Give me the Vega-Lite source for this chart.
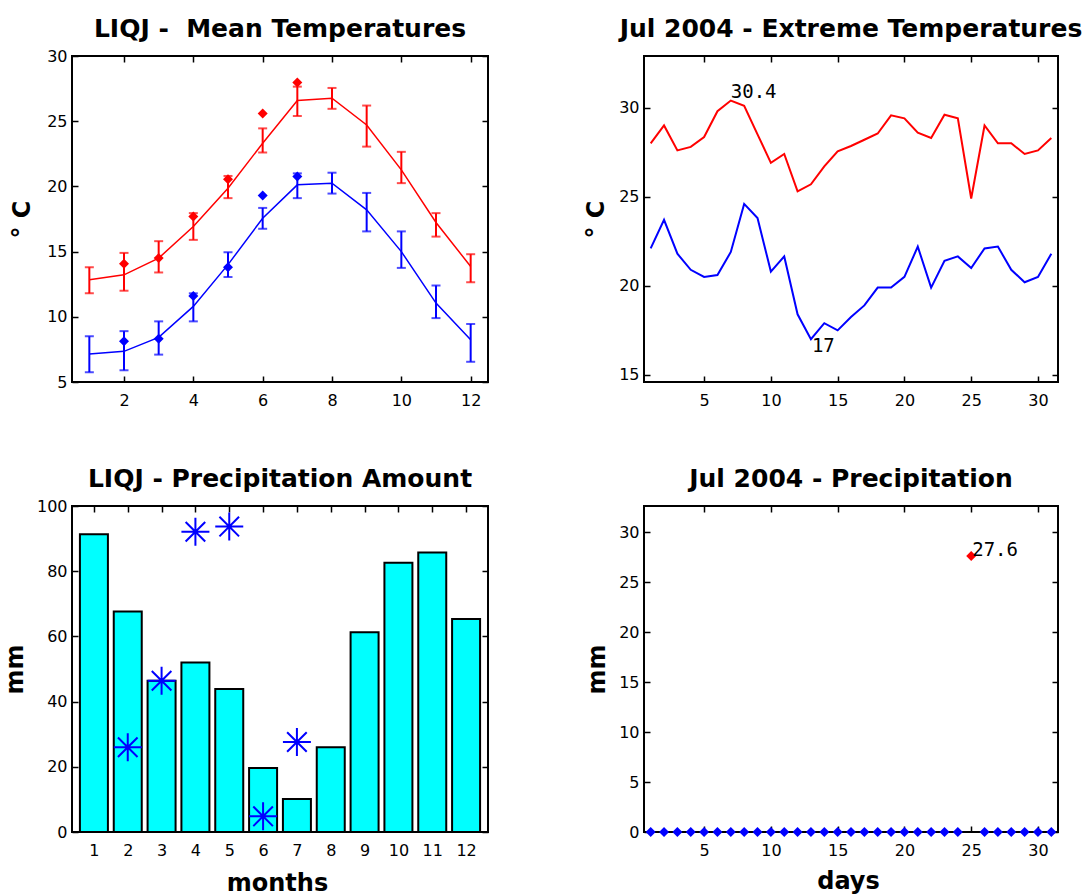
{
  "$schema": "https://vega.github.io/schema/vega-lite/v6.json",
  "padding": {"left": 2, "top": 16, "right": 0, "bottom": 0},
  "background": "white",
  "datasets": {
    "monthly": [
      {"month": 1, "series": "max", "mean": 12.84, "lo": 11.8, "hi": 13.8},
      {"month": 2, "series": "max", "mean": 13.22, "lo": 12.0, "hi": 14.9},
      {"month": 3, "series": "max", "mean": 14.5, "lo": 13.4, "hi": 15.8},
      {"month": 4, "series": "max", "mean": 16.93, "lo": 15.9, "hi": 17.95},
      {"month": 5, "series": "max", "mean": 19.86, "lo": 19.1, "hi": 20.8},
      {"month": 6, "series": "max", "mean": 23.31, "lo": 22.6, "hi": 24.45},
      {"month": 7, "series": "max", "mean": 26.58, "lo": 25.4, "hi": 27.65},
      {"month": 8, "series": "max", "mean": 26.76, "lo": 25.95, "hi": 27.55},
      {"month": 9, "series": "max", "mean": 24.71, "lo": 23.05, "hi": 26.2},
      {"month": 10, "series": "max", "mean": 21.27, "lo": 20.25, "hi": 22.65},
      {"month": 11, "series": "max", "mean": 17.23, "lo": 16.15, "hi": 17.95},
      {"month": 12, "series": "max", "mean": 13.86, "lo": 12.65, "hi": 14.8},
      {"month": 1, "series": "min", "mean": 7.15, "lo": 5.75, "hi": 8.5},
      {"month": 2, "series": "min", "mean": 7.35, "lo": 5.9, "hi": 8.9},
      {"month": 3, "series": "min", "mean": 8.42, "lo": 7.1, "hi": 9.65},
      {"month": 4, "series": "min", "mean": 10.8, "lo": 9.65, "hi": 11.8},
      {"month": 5, "series": "min", "mean": 14.0, "lo": 13.05, "hi": 14.95},
      {"month": 6, "series": "min", "mean": 17.56, "lo": 16.75, "hi": 18.35},
      {"month": 7, "series": "min", "mean": 20.12, "lo": 19.1, "hi": 21.0},
      {"month": 8, "series": "min", "mean": 20.24, "lo": 19.45, "hi": 21.05},
      {"month": 9, "series": "min", "mean": 18.2, "lo": 16.55, "hi": 19.5},
      {"month": 10, "series": "min", "mean": 15.0, "lo": 13.75, "hi": 16.55},
      {"month": 11, "series": "min", "mean": 11.05, "lo": 9.9, "hi": 12.4},
      {"month": 12, "series": "min", "mean": 8.24, "lo": 6.55, "hi": 9.45}
    ],
    "obs2004": [
      {"month": 2, "series": "max", "value": 14.07},
      {"month": 3, "series": "max", "value": 14.5},
      {"month": 4, "series": "max", "value": 17.7},
      {"month": 5, "series": "max", "value": 20.55},
      {"month": 6, "series": "max", "value": 25.6},
      {"month": 7, "series": "max", "value": 27.96},
      {"month": 2, "series": "min", "value": 8.12},
      {"month": 3, "series": "min", "value": 8.32},
      {"month": 4, "series": "min", "value": 11.6},
      {"month": 5, "series": "min", "value": 13.8},
      {"month": 6, "series": "min", "value": 19.3},
      {"month": 7, "series": "min", "value": 20.76}
    ],
    "precip": [
      {"month": 1, "mm": 91.3}, {"month": 2, "mm": 67.6}, {"month": 3, "mm": 46.4},
      {"month": 4, "mm": 52.0}, {"month": 5, "mm": 43.9}, {"month": 6, "mm": 19.6},
      {"month": 7, "mm": 10.1}, {"month": 8, "mm": 26.0}, {"month": 9, "mm": 61.3},
      {"month": 10, "mm": 82.6}, {"month": 11, "mm": 85.7}, {"month": 12, "mm": 65.3}
    ],
    "precip2004": [
      {"month": 2, "mm": 26.0}, {"month": 3, "mm": 46.4}, {"month": 4, "mm": 92.1},
      {"month": 5, "mm": 93.7}, {"month": 6, "mm": 4.8}, {"month": 7, "mm": 27.6}
    ],
    "daily": [
      {"day": 1, "tmax": 28.0, "tmin": 22.1, "mm": 0},
      {"day": 2, "tmax": 29.0, "tmin": 23.7, "mm": 0},
      {"day": 3, "tmax": 27.6, "tmin": 21.8, "mm": 0},
      {"day": 4, "tmax": 27.8, "tmin": 20.9, "mm": 0},
      {"day": 5, "tmax": 28.35, "tmin": 20.5, "mm": 0},
      {"day": 6, "tmax": 29.8, "tmin": 20.6, "mm": 0},
      {"day": 7, "tmax": 30.4, "tmin": 21.9, "mm": 0},
      {"day": 8, "tmax": 30.1, "tmin": 24.6, "mm": 0},
      {"day": 9, "tmax": 28.5, "tmin": 23.8, "mm": 0},
      {"day": 10, "tmax": 26.9, "tmin": 20.8, "mm": 0},
      {"day": 11, "tmax": 27.4, "tmin": 21.65, "mm": 0},
      {"day": 12, "tmax": 25.3, "tmin": 18.4, "mm": 0},
      {"day": 13, "tmax": 25.7, "tmin": 17.0, "mm": 0},
      {"day": 14, "tmax": 26.7, "tmin": 17.9, "mm": 0},
      {"day": 15, "tmax": 27.55, "tmin": 17.5, "mm": 0},
      {"day": 16, "tmax": 27.85, "tmin": 18.25, "mm": 0},
      {"day": 17, "tmax": 28.2, "tmin": 18.9, "mm": 0},
      {"day": 18, "tmax": 28.55, "tmin": 19.9, "mm": 0},
      {"day": 19, "tmax": 29.57, "tmin": 19.9, "mm": 0},
      {"day": 20, "tmax": 29.4, "tmin": 20.5, "mm": 0},
      {"day": 21, "tmax": 28.6, "tmin": 22.2, "mm": 0},
      {"day": 22, "tmax": 28.3, "tmin": 19.9, "mm": 0},
      {"day": 23, "tmax": 29.6, "tmin": 21.4, "mm": 0},
      {"day": 24, "tmax": 29.4, "tmin": 21.65, "mm": 0},
      {"day": 25, "tmax": 24.9, "tmin": 21.0, "mm": 27.6},
      {"day": 26, "tmax": 29.0, "tmin": 22.1, "mm": 0},
      {"day": 27, "tmax": 28.0, "tmin": 22.2, "mm": 0},
      {"day": 28, "tmax": 28.0, "tmin": 20.9, "mm": 0},
      {"day": 29, "tmax": 27.4, "tmin": 20.2, "mm": 0},
      {"day": 30, "tmax": 27.6, "tmin": 20.5, "mm": 0},
      {"day": 31, "tmax": 28.3, "tmin": 21.8, "mm": 0}
    ],
    "tempLabels": [
      {"day": 7, "value": 30.4, "label": "30.4", "pos": "above"},
      {"day": 13, "value": 17.0, "label": "17", "pos": "below"}
    ],
    "precipLabels": [
      {"day": 25, "value": 27.6, "label": "27.6"}
    ]
  },
  "concat": [
    {
      "width": 416,
      "height": 326,
      "title": {"text": "LIQJ - \u00a0Mean Temperatures", "offset": -14, "baseline": "alphabetic"},
      "layer": [
        {
          "data": {"name": "monthly"},
          "layer": [
            {
              "mark": {"type": "line", "strokeWidth": 1.5},
              "encoding": {
                "x": {"field": "month", "type": "quantitative", "scale": {"domain": [0.5, 12.5], "nice": false, "zero": false},
                      "axis": {"values": [2, 4, 6, 8, 10, 12], "tickCount": 20, "format": "d", "title": null, "labelOverlap": false}},
                "y": {"field": "mean", "type": "quantitative", "scale": {"domain": [5, 30], "nice": false, "zero": false},
                      "axis": {"values": [5, 10, 15, 20, 25, 30], "tickCount": 20, "format": "d", "labelOverlap": false, "title": "° C", "titleX": -50, "titleY": 163, "titleAlign": "center", "titleBaseline": "middle", "titleAngle": -90}},
                "color": {"field": "series", "type": "nominal", "scale": {"domain": ["max", "min"], "range": ["#ff0000", "#0000ff"]}, "legend": null},
                "detail": {"field": "series"}
              }
            },
            {
              "mark": {"type": "rule", "strokeWidth": 2},
              "encoding": {
                "x": {"field": "month", "type": "quantitative"},
                "y": {"field": "lo", "type": "quantitative"},
                "y2": {"field": "hi"},
                "color": {"field": "series", "type": "nominal", "legend": null}
              }
            },
            {
              "mark": {"type": "tick", "orient": "horizontal", "size": 9, "thickness": 2},
              "encoding": {
                "x": {"field": "month", "type": "quantitative"},
                "y": {"field": "lo", "type": "quantitative"},
                "color": {"field": "series", "type": "nominal", "legend": null}
              }
            },
            {
              "mark": {"type": "tick", "orient": "horizontal", "size": 9, "thickness": 2},
              "encoding": {
                "x": {"field": "month", "type": "quantitative"},
                "y": {"field": "hi", "type": "quantitative"},
                "color": {"field": "series", "type": "nominal", "legend": null}
              }
            },
            {
              "data": {"name": "obs2004"},
              "mark": {"type": "point", "shape": "diamond", "filled": true, "size": 100, "opacity": 1},
              "encoding": {
                "x": {"field": "month", "type": "quantitative"},
                "y": {"field": "value", "type": "quantitative"},
                "color": {"field": "series", "type": "nominal", "legend": null}
              }
            }
          ]
        },
        {
          "data": {"name": "monthly"},
          "mark": {"type": "point", "opacity": 0},
          "encoding": {
            "x": {"field": "month", "type": "quantitative", "scale": {"domain": [0.5, 12.5], "nice": false, "zero": false},
                  "axis": {"orient": "top", "labels": false, "title": null, "tickCount": 20, "values": [2, 4, 6, 8, 10, 12]}},
            "y": {"field": "mean", "type": "quantitative", "scale": {"domain": [5, 30], "nice": false, "zero": false},
                  "axis": {"orient": "right", "labels": false, "title": null, "tickCount": 20, "values": [5, 10, 15, 20, 25, 30]}}
          }
        }
      ],
      "resolve": {"axis": {"x": "independent", "y": "independent"}}
    },
    {
      "width": 414,
      "height": 326,
      "title": {"text": "Jul 2004 - Extreme Temperatures", "offset": -7, "baseline": "alphabetic"},
      "layer": [
        {
          "data": {"name": "daily"},
          "layer": [
            {
              "mark": {"type": "line", "color": "#ff0000", "strokeWidth": 2},
              "encoding": {
                "x": {"field": "day", "type": "quantitative", "scale": {"domain": [0.5, 31.5], "nice": false, "zero": false},
                      "axis": {"values": [5, 10, 15, 20, 25, 30], "tickCount": 20, "format": "d", "title": null, "labelOverlap": false}},
                "y": {"field": "tmax", "type": "quantitative", "scale": {"domain": [14.6, 32.9], "nice": false, "zero": false},
                      "axis": {"values": [15, 20, 25, 30], "tickCount": 20, "format": "d", "labelOverlap": false, "title": "° C", "titleX": -48, "titleY": 163, "titleAlign": "center", "titleBaseline": "middle", "titleAngle": -90}}
              }
            },
            {
              "mark": {"type": "line", "color": "#0000ff", "strokeWidth": 2},
              "encoding": {
                "x": {"field": "day", "type": "quantitative"},
                "y": {"field": "tmin", "type": "quantitative"}
              }
            },
            {
              "data": {"name": "tempLabels"},
              "transform": [{"filter": "datum.pos == 'above'"}],
              "mark": {"type": "text", "align": "left", "baseline": "bottom", "font": "DejaVu Sans Mono", "fontSize": 19, "color": "black", "dy": 1},
              "encoding": {
                "x": {"field": "day", "type": "quantitative"},
                "y": {"field": "value", "type": "quantitative"},
                "text": {"field": "label"}
              }
            },
            {
              "data": {"name": "tempLabels"},
              "transform": [{"filter": "datum.pos == 'below'"}],
              "mark": {"type": "text", "align": "left", "baseline": "top", "font": "DejaVu Sans Mono", "fontSize": 19, "color": "black", "dx": 1, "dy": -2},
              "encoding": {
                "x": {"field": "day", "type": "quantitative"},
                "y": {"field": "value", "type": "quantitative"},
                "text": {"field": "label"}
              }
            }
          ]
        },
        {
          "data": {"name": "daily"},
          "mark": {"type": "point", "opacity": 0},
          "encoding": {
            "x": {"field": "day", "type": "quantitative", "scale": {"domain": [0.5, 31.5], "nice": false, "zero": false},
                  "axis": {"orient": "top", "labels": false, "title": null, "tickCount": 20, "values": [5, 10, 15, 20, 25, 30]}},
            "y": {"field": "tmax", "type": "quantitative", "scale": {"domain": [14.6, 32.9], "nice": false, "zero": false},
                  "axis": {"orient": "right", "labels": false, "title": null, "tickCount": 20, "values": [15, 20, 25, 30]}}
          }
        }
      ],
      "resolve": {"axis": {"x": "independent", "y": "independent"}}
    },
    {
      "width": 416,
      "height": 326,
      "title": {"text": "LIQJ - Precipitation Amount", "offset": -14, "baseline": "alphabetic"},
      "layer": [
        {
          "layer": [
            {
              "data": {"name": "precip"},
              "mark": {"type": "bar", "size": 28, "fill": "#00ffff", "stroke": "black", "strokeWidth": 2},
              "encoding": {
                "x": {"field": "month", "type": "quantitative", "scale": {"domain": [0.5, 12.5], "nice": false, "zero": false},
                      "axis": {"values": [1, 2, 3, 4, 5, 6, 7, 8, 9, 10, 11, 12], "tickCount": 20, "format": "d", "labelOverlap": false, "title": "months", "titleX": 205, "titleY": 58, "titleAlign": "center", "titleBaseline": "alphabetic"}},
                "y": {"field": "mm", "type": "quantitative", "scale": {"domain": [0, 100], "nice": false},
                      "axis": {"values": [0, 20, 40, 60, 80, 100], "tickCount": 20, "format": "d", "labelOverlap": false, "title": "mm", "titleX": -57, "titleY": 163, "titleAlign": "center", "titleBaseline": "middle", "titleAngle": -90}}
              }
            },
            {
              "data": {"name": "precip2004"},
              "mark": {"type": "point", "shape": "M-1,0L1,0M0,-1L0,1M-0.7,-0.7L0.7,0.7M-0.7,0.7L0.7,-0.7", "filled": false, "size": 784, "stroke": "#0000ff", "strokeWidth": 2, "opacity": 1},
              "encoding": {
                "x": {"field": "month", "type": "quantitative"},
                "y": {"field": "mm", "type": "quantitative"}
              }
            }
          ]
        },
        {
          "data": {"name": "precip"},
          "mark": {"type": "point", "opacity": 0},
          "encoding": {
            "x": {"field": "month", "type": "quantitative", "scale": {"domain": [0.5, 12.5], "nice": false, "zero": false},
                  "axis": {"orient": "top", "labels": false, "title": null, "tickCount": 20, "values": [1, 2, 3, 4, 5, 6, 7, 8, 9, 10, 11, 12]}},
            "y": {"field": "mm", "type": "quantitative", "scale": {"domain": [0, 100], "nice": false},
                  "axis": {"orient": "right", "labels": false, "title": null, "tickCount": 20, "values": [0, 20, 40, 60, 80, 100]}}
          }
        }
      ],
      "resolve": {"axis": {"x": "independent", "y": "independent"}}
    },
    {
      "width": 414,
      "height": 326,
      "title": {"text": "Jul 2004 - Precipitation", "offset": -7, "baseline": "alphabetic"},
      "layer": [
        {
          "layer": [
            {
              "data": {"name": "daily"},
              "mark": {"type": "point", "shape": "diamond", "filled": true, "size": 100, "opacity": 1},
              "encoding": {
                "x": {"field": "day", "type": "quantitative", "scale": {"domain": [0.5, 31.5], "nice": false, "zero": false},
                      "axis": {"values": [5, 10, 15, 20, 25, 30], "tickCount": 20, "format": "d", "labelOverlap": false, "title": "days", "titleX": 204, "titleY": 56, "titleAlign": "center", "titleBaseline": "alphabetic"}},
                "y": {"field": "mm", "type": "quantitative", "scale": {"domain": [0, 32.6], "nice": false},
                      "axis": {"values": [0, 5, 10, 15, 20, 25, 30], "tickCount": 20, "format": "d", "labelOverlap": false, "title": "mm", "titleX": -47, "titleY": 163, "titleAlign": "center", "titleBaseline": "middle", "titleAngle": -90}},
                "color": {"condition": {"test": "datum.mm > 0", "value": "#ff0000"}, "value": "#0000ff"}
              }
            },
            {
              "data": {"name": "precipLabels"},
              "mark": {"type": "text", "align": "left", "baseline": "bottom", "font": "DejaVu Sans Mono", "fontSize": 19, "color": "black", "dx": 1, "dy": 4},
              "encoding": {
                "x": {"field": "day", "type": "quantitative"},
                "y": {"field": "value", "type": "quantitative"},
                "text": {"field": "label"}
              }
            }
          ]
        },
        {
          "data": {"name": "daily"},
          "mark": {"type": "point", "opacity": 0},
          "encoding": {
            "x": {"field": "day", "type": "quantitative", "scale": {"domain": [0.5, 31.5], "nice": false, "zero": false},
                  "axis": {"orient": "top", "labels": false, "title": null, "tickCount": 20, "values": [5, 10, 15, 20, 25, 30]}},
            "y": {"field": "mm", "type": "quantitative", "scale": {"domain": [0, 32.6], "nice": false},
                  "axis": {"orient": "right", "labels": false, "title": null, "tickCount": 20, "values": [0, 5, 10, 15, 20, 25, 30]}}
          }
        }
      ],
      "resolve": {"axis": {"x": "independent", "y": "independent"}}
    }
  ],
  "columns": 2,
  "spacing": {"row": 124, "column": 156},
  "bounds": "flush",
  "config": {
    "font": "DejaVu Sans",
    "view": {"stroke": "black", "strokeWidth": 2},
    "axis": {
      "domain": false,
      "grid": false,
      "ticks": true,
      "tickSize": -6,
      "tickColor": "black",
      "tickWidth": 1.5,
      "labelFont": "DejaVu Sans",
      "labelFontSize": 16,
      "labelColor": "black",
      "labelFlush": false,
      "labelOverlap": false,
      "labelBound": false,
      "titleFont": "DejaVu Sans",
      "titleFontSize": 24,
      "titleFontWeight": "bold",
      "titleColor": "black"
    },
    "axisX": {"labelPadding": 16},
    "axisY": {"labelPadding": 11},
    "title": {"font": "DejaVu Sans", "fontSize": 25, "fontWeight": "bold", "color": "black", "anchor": "middle"}
  }
}
